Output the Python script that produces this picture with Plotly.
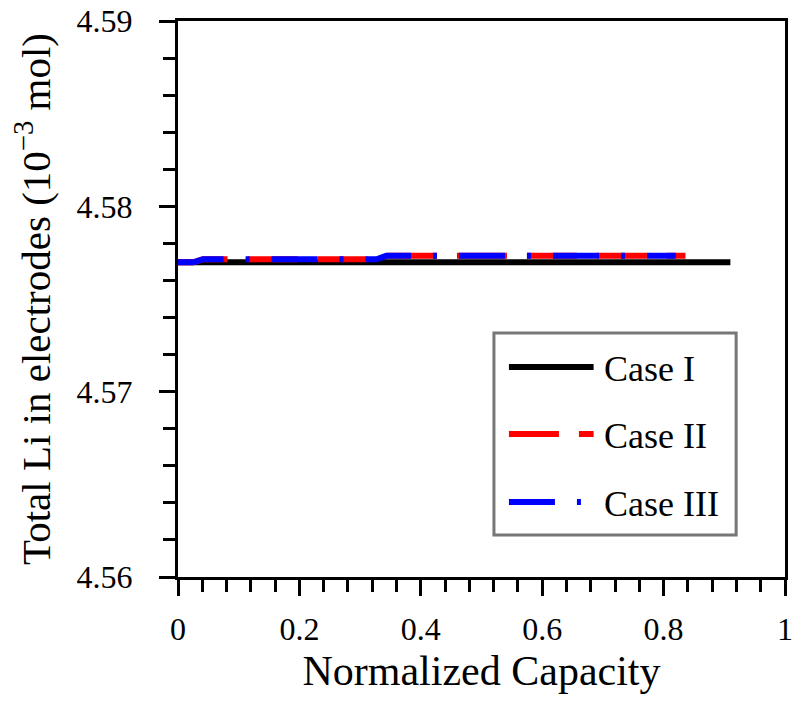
import plotly.graph_objects as go

# Data
case1_x = [0.0, 0.91]
case1_y = [4.57698, 4.57698]

case2_x = [0.0, 0.025, 0.041, 0.327, 0.343, 0.836]
case2_y = [4.57698, 4.57698, 4.57714, 4.57714, 4.57733, 4.57733]

case3_x = [0.0, 0.025, 0.041, 0.327, 0.343, 0.82]
case3_y = [4.57698, 4.57698, 4.57714, 4.57714, 4.57733, 4.57733]

series_names = ["Case I", "Case II", "Case III"]
series_colors = ["#000000", "#ff0000", "#0000ff"]
series_dash = ["solid", "50px,20px", "46px,22px,4px,22px"]

x_ticks = [0, 0.2, 0.4, 0.6, 0.8, 1]
x_tick_labels = ["0", "0.2", "0.4", "0.6", "0.8", "1"]
y_ticks = [4.56, 4.57, 4.58, 4.59]
y_tick_labels = ["4.56", "4.57", "4.58", "4.59"]

FONT = "Liberation Serif"

fig = go.Figure()
for xs, ys, name, col, dash in zip(
    [case1_x, case2_x, case3_x], [case1_y, case2_y, case3_y],
    series_names, series_colors, series_dash):
    fig.add_trace(go.Scatter(x=xs, y=ys, mode="lines", name=name,
                             line=dict(color=col, width=6, dash=dash),
                             showlegend=False))

axis_common = dict(showline=True, linecolor="black", linewidth=3, mirror=True,
                   ticks="outside", tickcolor="black", tickwidth=2.5, ticklen=16,
                   showgrid=False, zeroline=False, automargin=False,
                   tickfont=dict(family=FONT, size=32, color="black"))

fig.update_xaxes(range=[0, 1], tickvals=x_ticks, ticktext=x_tick_labels,
                 minor=dict(dtick=0.04, ticks="outside", ticklen=12, tickwidth=2.5,
                            tickcolor="black", showgrid=False),
                 title=dict(text="Normalized Capacity",
                            font=dict(family=FONT, size=42, color="black"), standoff=10),
                 ticklabelstandoff=6,
                 **axis_common)
fig.update_yaxes(range=[4.56, 4.59], tickvals=y_ticks, ticktext=y_tick_labels,
                 minor=dict(dtick=0.002, ticks="outside", ticklen=12, tickwidth=2.5,
                            tickcolor="black", showgrid=False),
                 title=dict(text="Total Li in electrodes (10<sup>−3</sup> mol)",
                            font=dict(family=FONT, size=41, color="black"), standoff=14),
                 ticklabelstandoff=20,
                 **axis_common)

# Legend (drawn in paper coordinates)
leg_x0, leg_x1, leg_y0, leg_y1 = 0.5205, 0.9195, 0.0755, 0.4388
fig.add_shape(type="rect", xref="paper", yref="paper", x0=leg_x0, x1=leg_x1,
              y0=leg_y0, y1=leg_y1, line=dict(color="#777777", width=3),
              fillcolor="white", layer="above")
leg_rows = [0.3777, 0.2572, 0.1349]
for yrow, name, col, dash in zip(leg_rows, series_names, series_colors, series_dash):
    fig.add_shape(type="line", xref="paper", yref="paper", x0=0.5452, x1=0.6847,
                  y0=yrow, y1=yrow, line=dict(color=col, width=6, dash=dash), layer="above")
    fig.add_annotation(xref="paper", yref="paper", x=0.6979, y=yrow - 0.004,
                       text=name, showarrow=False, xanchor="left", yanchor="middle",
                       font=dict(family=FONT, size=36, color="black"))

fig.update_layout(width=794, height=701, plot_bgcolor="white", paper_bgcolor="white",
                  margin=dict(l=178, r=9, t=21, b=124), showlegend=False)

fig.write_html("out.html")
